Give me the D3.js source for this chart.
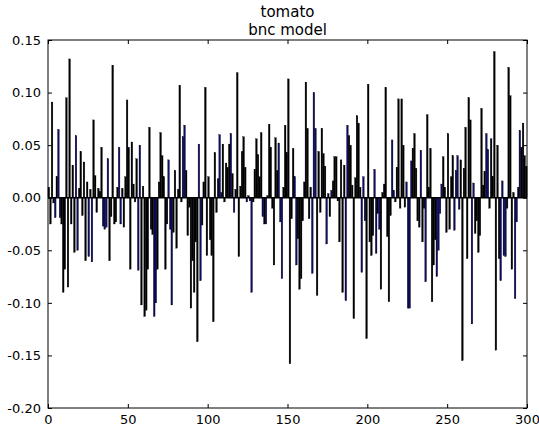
<!DOCTYPE html>
<html><head><meta charset="utf-8">
<script src="https://cdn.jsdelivr.net/npm/d3@7"></script>
<style>body{margin:0;background:#fff}svg{display:block}text{font-family:"DejaVu Sans",sans-serif}</style>
</head><body><div id="chart"></div>
<script>
const title1 = "tomato";
const title2 = "bnc model";
const xTicks = [0, 50, 100, 150, 200, 250, 300];
const yTicks = [-0.20, -0.15, -0.10, -0.05, 0.00, 0.05, 0.10, 0.15];

const vals0 = [0.010,-0.025,0.091,-0.005,-0.019,0.020,0.065,-0.019,-0.025,-0.090,-0.068,0.095,-0.085,0.132,-0.025,0.031,-0.052,0.059,-0.050,0.009,0.044,-0.017,0.034,-0.060,0.015,-0.056,0.008,-0.061,0.074,0.021,-0.014,0.009,0.006,0.048,-0.027,-0.030,-0.028,0.037,-0.060,-0.018,0.126,-0.025,-0.023,0.010,0.048,-0.025,0.009,-0.028,0.020,0.093];
const vals1 = [0.048,-0.068,0.053,0.013,-0.004,0.037,-0.069,0.050,-0.102,0.011,-0.113,-0.107,-0.068,0.067,-0.030,-0.035,-0.113,-0.100,-0.068,0.015,0.062,0.040,0.020,-0.068,-0.025,0.036,-0.030,-0.102,-0.033,0.026,-0.048,0.008,0.107,-0.004,0.058,0.069,0.026,-0.036,-0.009,-0.105,-0.060,-0.090,-0.042,-0.137,0.051,-0.079,-0.026,0.015,0.105,-0.055];
const vals2 = [0.020,-0.040,-0.055,-0.118,0.043,-0.014,0.018,0.060,0.005,0.051,-0.004,0.033,0.029,0.051,0.061,0.023,-0.014,0.008,0.119,-0.056,0.011,0.044,0.058,0.029,-0.004,0.002,-0.003,-0.090,-0.004,0.027,0.056,0.041,0.020,0.062,-0.018,-0.025,-0.025,0.002,0.070,0.048,-0.010,-0.064,0.057,0.026,0.052,-0.023,-0.077,0.010,0.069,0.043];
const vals3 = [0.113,-0.158,-0.020,0.047,0.020,-0.064,-0.039,-0.087,-0.077,-0.022,0.015,0.110,0.066,-0.020,0.010,-0.072,0.100,0.066,-0.093,0.044,-0.014,0.066,0.042,0.030,-0.044,0.004,-0.018,0.007,0.016,0.039,0.039,-0.003,-0.042,0.036,-0.090,0.031,-0.098,0.069,0.059,0.050,0.012,-0.115,0.019,0.078,0.071,0.010,-0.071,0.020,-0.022,-0.134];
const vals4 = [0.108,-0.042,-0.055,-0.036,0.027,-0.053,-0.015,-0.030,-0.087,0.005,0.013,0.105,-0.037,-0.099,-0.017,0.055,0.007,-0.004,0.029,0.094,-0.010,0.094,0.050,-0.009,0.015,-0.105,-0.105,0.035,0.047,0.061,0.028,-0.022,-0.028,0.045,-0.042,-0.010,-0.080,0.079,0.010,0.047,-0.099,-0.064,-0.040,-0.075,-0.050,-0.015,0.013,0.039,0.010,-0.033];
const vals5 = [0.061,-0.030,0.020,0.040,-0.031,0.026,0.040,-0.011,0.036,-0.155,0.028,0.067,-0.058,0.095,0.074,-0.120,0.014,-0.034,-0.022,-0.052,-0.036,0.085,0.012,0.025,0.061,0.046,-0.010,0.056,0.020,0.139,-0.145,0.050,-0.058,-0.079,0.016,-0.055,-0.056,-0.010,0.124,0.097,-0.068,0.005,-0.096,-0.023,0.010,0.064,0.048,0.071,0.040,0.030];
// indices of the bars drawn in blue
const blueBars = [4,6,7,17,18,25,27,34,35,36,37,44,45,56,57,66,67,75,76,77,84,85,94,95,107,108,114,116,124,127,134,136,144,145,146,154,155,165,166,167,174,177,186,187,196,197,198,204,205,207,215,216,224,225,226,227,233,236,243,244,245,246,254,255,256,257,265,266,274,275,283,284,285,286,292,293,295];

const values = [].concat(vals0, vals1, vals2, vals3, vals4, vals5);
const blueSet = new Set(blueBars);
const data = values.map((v, i) => ({i, v, blue: blueSet.has(i)}));

const W = 539, H = 426;
const L = 48, R = 527, T = 40, B = 408;
const svg = d3.select("#chart").append("svg").attr("width", W).attr("height", H);
const x = d3.scaleLinear().domain([0, 300]).range([L, R]);
const y = d3.scaleLinear().domain([-0.2, 0.15]).range([B, T]);
const fmt = v => (v < -1e-9 ? "-" : "") + Math.abs(v).toFixed(2);

// bars
svg.append("g").selectAll("rect").data(data).join("rect")
  .attr("x", d => x(d.i))
  .attr("width", x(0.8) - x(0) + 0.4)
  .attr("y", d => y(Math.max(0, d.v)))
  .attr("height", d => Math.abs(y(d.v) - y(0)))
  .attr("fill", d => d.blue ? "#0c0c66" : "#000")
  .attr("stroke", "#000").attr("stroke-width", 0.3);

// zero line
svg.append("line").attr("x1", L).attr("x2", R).attr("y1", y(0)).attr("y2", y(0))
  .attr("stroke", "#000").attr("stroke-width", 1.6);

// axes with inward ticks
const axL = svg.append("g").attr("transform", `translate(${L},0)`)
  .call(d3.axisLeft(y).tickValues(yTicks).tickSizeInner(-4).tickSizeOuter(0).tickPadding(7).tickFormat(fmt));
const axR = svg.append("g").attr("transform", `translate(${R},0)`)
  .call(d3.axisRight(y).tickValues(yTicks).tickSizeInner(-4).tickSizeOuter(0).tickFormat(""));
const axB = svg.append("g").attr("transform", `translate(0,${B})`)
  .call(d3.axisBottom(x).tickValues(xTicks).tickSizeInner(-4).tickSizeOuter(0).tickPadding(7).tickFormat(d3.format("d")));
const axT = svg.append("g").attr("transform", `translate(0,${T})`)
  .call(d3.axisTop(x).tickValues(xTicks).tickSizeInner(-4).tickSizeOuter(0).tickFormat(""));
[axL, axR, axB, axT].forEach(a => {
  a.select(".domain").remove();
  a.selectAll("line").attr("stroke", "#000");
  a.selectAll("text").attr("font-size", 13).attr("fill", "#000");
});

// frame
svg.append("rect").attr("x", L).attr("y", T).attr("width", R - L).attr("height", B - T)
  .attr("fill", "none").attr("stroke", "#000").attr("stroke-width", 1);

// title
svg.append("text").attr("x", (L + R) / 2).attr("y", 17).attr("text-anchor", "middle")
  .attr("font-size", 15).text(title1);
svg.append("text").attr("x", (L + R) / 2).attr("y", 35).attr("text-anchor", "middle")
  .attr("font-size", 15).text(title2);
</script></body></html>
